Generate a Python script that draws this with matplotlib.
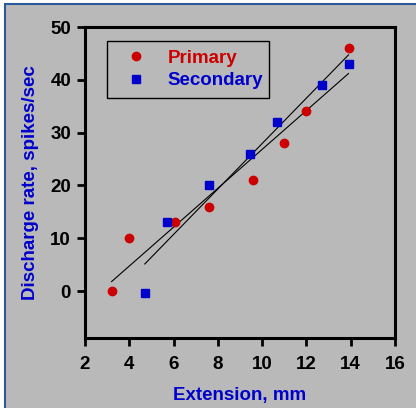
import numpy as np
import matplotlib
matplotlib.use('Agg')
import matplotlib.pyplot as plt
from matplotlib.patches import Rectangle

# data
primary_x = [3.2, 4.0, 6.05, 7.6, 9.6, 11.0, 12.0, 13.9]
primary_y = [0, 10, 13, 16, 21, 28, 34, 46]
secondary_x = [4.7, 5.7, 7.6, 9.45, 10.65, 12.7, 13.9]
secondary_y = [-0.3, 13, 20, 26, 32, 39, 43]

xticks = [2, 4, 6, 8, 10, 12, 14, 16]
yticks = [0, 10, 20, 30, 40, 50]

red = '#cc0000'
blue = '#0000cc'
bg = '#b9b9b9'

plt.rcParams['font.family'] = ['Liberation Sans', 'DejaVu Sans']
plt.rcParams['font.weight'] = 'bold'

fig = plt.figure(figsize=(4.16, 4.08), dpi=100, facecolor='white')

ax = fig.add_axes([85/416, 1 - 338/408, 310/416, 311/408])
ax.set_facecolor(bg)

# gray panel with blue border behind the axes
panel = Rectangle((5/416, -0.01), 1.02, 1 - 4/408 + 0.01, transform=fig.transFigure,
                  facecolor=bg, edgecolor='#2a5a9a', linewidth=1.5, zorder=-10)
fig.add_artist(panel)

ax.plot(primary_x, primary_y, 'o', color=red, markersize=6, label='Primary', zorder=3)
ax.plot(secondary_x, secondary_y, 's', color=blue, markersize=6, label='Secondary', zorder=3)

# least squares lines over each series' range
for xs, ys in [(primary_x, primary_y), (secondary_x, secondary_y)]:
    m, b = np.polyfit(xs, ys, 1)
    xx = np.array([min(xs), max(xs)])
    ax.plot(xx, m*xx + b, color='black', linewidth=0.8, zorder=2)

ax.set_xlim(2, 16)
ax.set_ylim(-8.9, 50)
ax.set_xticks(xticks)
ax.set_yticks(yticks)
ax.tick_params(axis='both', direction='out', length=6, width=2, labelsize=13.5)
ax.tick_params(axis='x', pad=7)
ax.tick_params(axis='y', pad=4)
for s in ax.spines.values():
    s.set_linewidth(2.2)

ax.set_xlabel('Extension, mm', color=blue, fontsize=13.5, fontweight='bold', labelpad=10)
ax.set_ylabel('Discharge rate, spikes/sec', color=blue, fontsize=13.5, fontweight='bold', labelpad=8)

leg = ax.legend(loc='upper left', bbox_to_anchor=(0.071, 0.775, 0.523, 0.18), mode='expand',
                borderaxespad=0, fancybox=False, framealpha=1, facecolor=bg, edgecolor='black',
                fontsize=13.5, handlelength=2.2, handletextpad=0.6, labelspacing=0.3, borderpad=0.45)
leg.get_frame().set_linewidth(1.0)
for t, c in zip(leg.get_texts(), [red, blue]):
    t.set_color(c)

fig.savefig('out.png', dpi=100, facecolor=fig.get_facecolor())
